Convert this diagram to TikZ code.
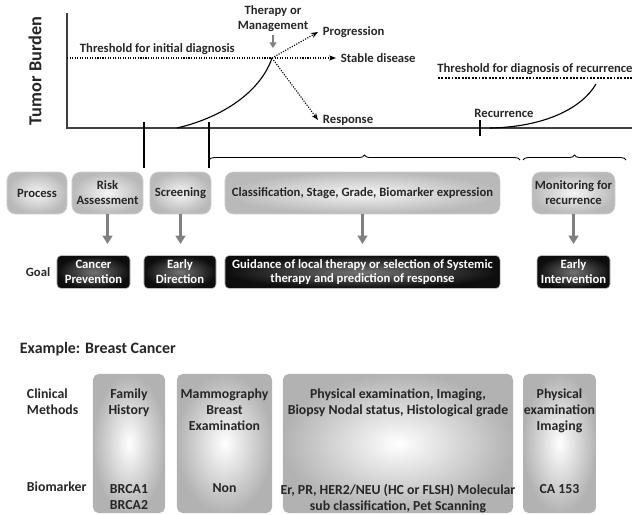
\documentclass[tikz,border=0pt]{standalone}
\usepackage{fontspec}
\setmainfont{Carlito}
\usepackage{tikz}
\usetikzlibrary{arrows.meta, decorations.pathreplacing}

\tikzset{
  procbox/.style={draw=gray!35, rounded corners=6pt, inner color=gray!8, outer color=gray!55, minimum height=1.05cm, align=center, inner sep=1pt},
  goalbox/.style={draw=gray!50, rounded corners=3pt, inner color=black!55, outer color=black!95, text=white, minimum height=0.825cm, align=center, inner sep=1pt},
  methbox/.style={rounded corners=4pt, inner color=white, outer color=gray!60, minimum height=3.475cm},
  methtext/.style={align=center, anchor=north, font=\bfseries\fontsize{9.8}{11.4}\selectfont},
  grayarrow/.style={draw=gray, line width=2pt, -{Triangle[width=7pt,length=6pt]}},
  dotarrow/.style={densely dotted, thick, -{Stealth[length=5pt]}}
}

\begin{document}
\begin{tikzpicture}[x=0.025cm, y=-0.025cm, font=\bfseries\fontsize{9}{10.6}\selectfont, text=black!85]
  \useasboundingbox (0,0) rectangle (635,514);

  % Axes
  \draw[line width=1.2pt, black!75] (67,13) -- (67,128) -- (632,128);
  \node[rotate=90, font=\bfseries\fontsize{13}{15}\selectfont] (ylabel) at (35,71) {Tumor Burden};

  % Threshold for initial diagnosis
  \coordinate (peak) at (272,58);
  \draw[densely dotted, thick] (67,58) -- (peak);
  \node[anchor=west] (thr) at (75,49) {Threshold for initial diagnosis};

  % Tumor growth
  \draw[thick] (177,128) .. controls (228,116) and (262,88) .. (peak);

  % Therapy and outcomes
  \node[align=center] (therapy) at (273,19) {Therapy or\\Management};
  \draw[draw=gray, line width=1.5pt, -{Triangle[width=5pt,length=4pt]}] (273,35) -- (273,48);
  \node[anchor=west] (prog) at (318,32) {Progression};
  \node[anchor=west] (stable) at (336,58) {Stable disease};
  \node[anchor=west] (resp) at (318,120) {Response};
  \draw[dotarrow] (peak) -- (prog.west);
  \draw[dotarrow] (peak) -- (stable.west);
  \draw[dotarrow] (peak) -- (resp.west);

  % Recurrence
  \node (thrrec) at (535,69) {Threshold for diagnosis of recurrence};
  \draw[densely dotted, line width=1.4pt] (438,78) -- (632,78);
  \draw[thick] (490,128) .. controls (545,127) and (582,108) .. (596,84);
  \node (recur) at (504,113) {Recurrence};
  \draw[thick] (480,120) -- (480,136);

  % Ticks and braces
  \draw[thick] (144,122) -- (144,168);
  \draw[thick] (209,122) -- (209,168);
  \draw[semithick, decorate, decoration={brace, amplitude=3.5pt}] (209,160) -- (520,160);
  \draw[semithick, decorate, decoration={brace, amplitude=3.5pt}] (523,160) -- (626,160);

  % Process row
  \node[procbox, minimum width=1.5cm] (process) at (37,193) {Process};
  \node[procbox, minimum width=1.775cm] (risk) at (107.5,193) {Risk\\Assessment};
  \node[procbox, minimum width=1.525cm] (screen) at (180.5,193) {Screening};
  \node[procbox, minimum width=6.875cm] (classif) at (362.5,193) {Classification, Stage, Grade, Biomarker expression};
  \node[procbox, minimum width=2.075cm] (monitor) at (573.5,193) {Monitoring for\\recurrence};

  % Goal row
  \coordinate (arrowend) at (0,244);
  \node (goal) at (38,272) {Goal};
  \node[goalbox, minimum width=1.825cm] (prev) at (93.5,272) {Cancer\\Prevention};
  \node[goalbox, minimum width=1.8cm] (direct) at (180,272) {Early\\Direction};
  \node[goalbox, minimum width=6.875cm] (guid) at (362.5,272) {Guidance of local therapy or selection of Systemic\\therapy and prediction of response};
  \node[goalbox, minimum width=1.825cm] (interv) at (573.5,272) {Early\\Intervention};

  \draw[grayarrow] (risk.south) -- (risk.south |- arrowend);
  \draw[grayarrow] (screen.south) -- (screen.south |- arrowend);
  \draw[grayarrow] (classif.south) -- (classif.south |- arrowend);
  \draw[grayarrow] (monitor.south) -- (monitor.south |- arrowend);

  % Example
  \node[anchor=west, font=\bfseries\fontsize{11.3}{13}\selectfont] (example) at (15,349) {Example: Breast Cancer};
  \node[anchor=north west, align=left, font=\bfseries\fontsize{9.8}{11.4}\selectfont] (clin) at (22,384) {Clinical\\Methods};
  \node[anchor=west, font=\bfseries\fontsize{9.8}{11.4}\selectfont] (biom) at (22,487) {Biomarker};

  \node[methbox, minimum width=1.8cm] (fam) at (129,443.5) {};
  \node[methbox, minimum width=2.375cm] (mammo) at (224.5,443.5) {};
  \node[methbox, minimum width=5.75cm] (phys) at (398,443.5) {};
  \node[methbox, minimum width=1.825cm] (imag) at (559.5,443.5) {};

  \node[methtext] at (129,384) {Family\\History};
  \node[methtext] at (224.5,384) {Mammography\\Breast\\Examination};
  \node[methtext] at (398,384) {Physical examination, Imaging,\\Biopsy Nodal status, Histological grade};
  \node[methtext] at (559.5,384) {Physical\\examination\\Imaging};

  \node[methtext] at (129,479) {BRCA1\\BRCA2};
  \node[methtext] at (224.5,479) {Non};
  \node[methtext] at (398,479) {Er, PR, HER2/NEU (HC or FLSH) Molecular\\sub classification, Pet Scanning};
  \node[methtext] at (559.5,479) {CA 153};
\end{tikzpicture}
\end{document}
